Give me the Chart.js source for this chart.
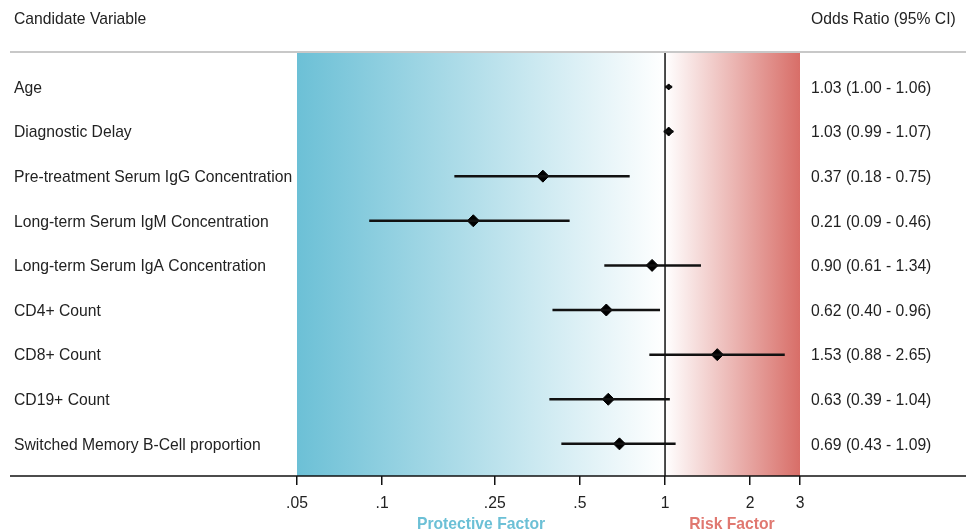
<!DOCTYPE html>
<html>
<head>
<meta charset="utf-8">
<script src="https://cdn.jsdelivr.net/npm/chart.js@4"></script>
<style>
  html, body { margin: 0; padding: 0; background: #fff; }
</style>
</head>
<body>
<canvas id="forest" width="966" height="531"></canvas>
<script>
const categories = [
  'Age',
  'Diagnostic Delay',
  'Pre-treatment Serum IgG Concentration',
  'Long-term Serum IgM Concentration',
  'Long-term Serum IgA Concentration',
  'CD4+ Count',
  'CD8+ Count',
  'CD19+ Count',
  'Switched Memory B-Cell proportion'
];
const oddsRatio = [1.03, 1.03, 0.37, 0.21, 0.90, 0.62, 1.53, 0.63, 0.69];
const ciLow     = [1.00, 0.99, 0.18, 0.09, 0.61, 0.40, 0.88, 0.39, 0.43];
const ciHigh    = [1.06, 1.07, 0.75, 0.46, 1.34, 0.96, 2.65, 1.04, 1.09];
const xTicks      = [0.05, 0.1, 0.25, 0.5, 1, 2, 3];
const xTickLabels = ['.05', '.1', '.25', '.5', '1', '2', '3'];

const orLabels = oddsRatio.map((v, i) =>
  v.toFixed(2) + ' (' + ciLow[i].toFixed(2) + ' - ' + ciHigh[i].toFixed(2) + ')');

const FONT = "'Liberation Sans', Arial, sans-serif";
const SIZE = 15.7;

// one small line per row for the confidence interval
const ciSets = categories.map((c, i) => ({
  data: [{ x: ciLow[i], y: i }, { x: ciHigh[i], y: i }],
  showLine: true,
  borderColor: '#111',
  borderWidth: 2.5,
  pointRadius: 0
}));

const decor = {
  id: 'decor',
  beforeDraw(chart) {
    const { ctx, chartArea: a, scales: { x } } = chart;
    const x1 = x.getPixelForValue(1);
    let g = ctx.createLinearGradient(a.left, 0, x1, 0);
    g.addColorStop(0, 'rgb(108,192,214)');
    g.addColorStop(1, 'rgb(255,255,255)');
    ctx.fillStyle = g;
    ctx.fillRect(a.left, a.top, x1 - a.left, a.bottom - a.top);
    g = ctx.createLinearGradient(x1, 0, a.right, 0);
    g.addColorStop(0, 'rgb(255,255,255)');
    g.addColorStop(1, 'rgb(216,110,104)');
    ctx.fillStyle = g;
    ctx.fillRect(x1, a.top, a.right - x1, a.bottom - a.top);
  },
  beforeDatasetsDraw(chart) {
    const { ctx, chartArea: a, scales: { x } } = chart;
    const x1 = x.getPixelForValue(1);
    ctx.save();
    ctx.strokeStyle = '#111';
    ctx.lineWidth = 1.5;
    ctx.beginPath();
    ctx.moveTo(x1, a.top);
    ctx.lineTo(x1, a.bottom);
    ctx.stroke();
    ctx.restore();
  },
  afterDraw(chart) {
    const { ctx, chartArea: a } = chart;
    ctx.save();
    ctx.strokeStyle = '#c8c8c8';
    ctx.lineWidth = 2;
    ctx.beginPath();
    ctx.moveTo(10, a.top - 1);
    ctx.lineTo(966, a.top - 1);
    ctx.stroke();
    ctx.strokeStyle = '#111';
    ctx.lineWidth = 1.5;
    ctx.beginPath();
    ctx.moveTo(10, a.bottom);
    ctx.lineTo(966, a.bottom);
    ctx.stroke();

    ctx.textBaseline = 'middle';
    ctx.fillStyle = '#222';
    ctx.font = SIZE + 'px ' + FONT;
    ctx.textAlign = 'left';
    ctx.fillText('Candidate Variable', 14, 20);
    ctx.fillText('Odds Ratio (95% CI)', 811, 20);

    ctx.font = 'bold ' + SIZE + 'px ' + FONT;
    ctx.textAlign = 'center';
    ctx.fillStyle = 'rgb(108,192,214)';
    ctx.fillText('Protective Factor', 481, 525);
    ctx.fillStyle = 'rgb(224,120,112)';
    ctx.fillText('Risk Factor', 732, 525);
    ctx.restore();
  }
};

new Chart(document.getElementById('forest'), {
  type: 'scatter',
  data: {
    datasets: [
      ...ciSets,
      {
        data: oddsRatio.map((v, i) => ({ x: v, y: i })),
        pointStyle: 'rectRot',
        pointRadius: [3, 4.5, 6, 6, 6, 6, 6, 6, 6],
        backgroundColor: '#000',
        borderColor: '#000',
        borderWidth: 1
      }
    ]
  },
  options: {
    responsive: false,
    animation: false,
    events: [],
    layout: { padding: { left: 14, right: 0, top: 53, bottom: 0 } },
    plugins: { legend: { display: false }, tooltip: { enabled: false } },
    scales: {
      x: {
        type: 'logarithmic',
        min: 0.05,
        max: 3,
        afterBuildTicks: s => { s.ticks = xTicks.map(v => ({ value: v, major: true })); },
        afterFit: s => { s.height = 55; },
        border: { display: false },
        grid: { drawOnChartArea: false, tickLength: 9, color: '#111', lineWidth: 1.5 },
        ticks: {
          autoSkip: false,
          maxRotation: 0,
          padding: 9,
          color: '#222',
          font: { family: FONT, size: SIZE },
          callback: (v, i) => xTickLabels[i]
        }
      },
      y: {
        type: 'linear',
        position: 'left',
        reverse: true,
        min: -0.76,
        max: 8.72,
        afterBuildTicks: s => { s.ticks = categories.map((c, i) => ({ value: i })); },
        afterFit: s => { s.width = 283; },
        border: { display: false },
        grid: { display: false },
        ticks: {
          autoSkip: false,
          crossAlign: 'far',
          labelOffset: 1.5,
          color: '#222',
          font: { family: FONT, size: SIZE },
          callback: v => categories[v]
        }
      },
      y2: {
        type: 'linear',
        position: 'right',
        reverse: true,
        min: -0.76,
        max: 8.72,
        afterBuildTicks: s => { s.ticks = orLabels.map((c, i) => ({ value: i })); },
        afterFit: s => { s.width = 166; },
        border: { display: false },
        grid: { display: false, drawTicks: false },
        ticks: {
          autoSkip: false,
          crossAlign: 'near',
          labelOffset: 1.5,
          padding: 11,
          color: '#222',
          font: { family: FONT, size: SIZE },
          callback: v => orLabels[v]
        }
      }
    }
  },
  plugins: [decor]
});
</script>
</body>
</html>
